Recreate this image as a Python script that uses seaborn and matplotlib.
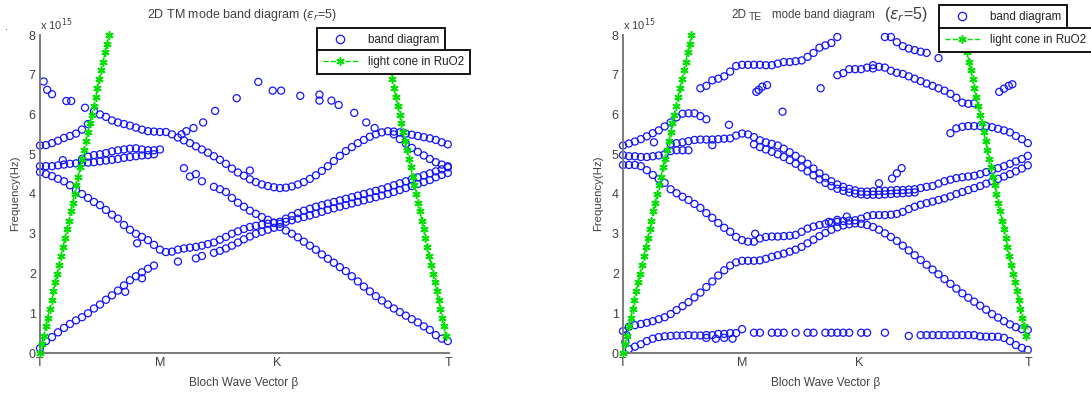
import numpy as np
import pandas as pd
import matplotlib
matplotlib.use("Agg")
import matplotlib.pyplot as plt
from matplotlib.lines import Line2D
import seaborn as sns

nan = float("nan")

# ---------------- data (frequencies in units of 1e15 Hz) ----------------
K_PATH = [0.00, 0.05, 0.10, 0.15, 0.20, 0.25, 0.30, 0.35, 0.40, 0.45, 0.50, 0.55, 0.60, 0.65, 0.70, 0.75, 0.80, 0.85, 0.90, 0.95, 1.00,
          1.05, 1.10, 1.15, 1.20, 1.25, 1.30, 1.35, 1.40, 1.45, 1.50, 1.55, 1.60, 1.65, 1.70, 1.75, 1.80, 1.85, 1.90, 1.95,
          2.00, 2.05, 2.10, 2.15, 2.20, 2.25, 2.30, 2.35, 2.40, 2.45, 2.50, 2.55, 2.60, 2.65, 2.70, 2.75, 2.80, 2.85, 2.90, 2.95,
          3.00, 3.05, 3.10, 3.15, 3.20, 3.25, 3.30, 3.35, 3.40]
K_TICKS = [0.0, 1.0, 1.98, 3.41]
K_TICK_LABELS = ["T", "M", "K", "T"]
Y_TICKS = [0, 1, 2, 3, 4, 5, 6, 7, 8]

# --- TM panel ---
TM_BAND_1 = ([0.12, 0.30, 0.40, 0.52, 0.63, 0.73, 0.82, 0.90, 1.00, 1.12, 1.22, 1.34, 1.45, 1.57, 1.70, 1.83, 1.93, 2.03, 2.12, 2.20, nan]
             + [nan, nan, 2.30, nan, nan, 2.38, 2.44, nan, 2.52, 2.57, 2.63, 2.70, 2.78, 2.86, 2.93, 3.00, 3.05, 3.10, 3.15]
             + [3.17, 3.08, 3.00, 2.91, 2.80, 2.70, 2.60, 2.48, 2.37, 2.27, 2.16, 2.06, 1.93, 1.80, 1.67, 1.55, 1.43, 1.32, 1.22, 1.12,
                1.03, 0.94, 0.85, 0.77, 0.67, 0.58, 0.45, 0.36, 0.30])
TM_BAND_2 = ([4.55, 4.50, 4.45, 4.38, 4.32, 4.22, 4.10, 4.00, 3.90, 3.80, 3.72, 3.60, 3.48, 3.38, 3.22, 3.10, 3.00, 2.92, 2.84, 2.72, 2.60]
             + [2.54, 2.55, 2.60, 2.63, 2.65, 2.67, 2.70, 2.74, 2.78, 2.85, 2.92, 3.00, 3.06, 3.12, 3.17, 3.20, 3.23, 3.25, 3.27]
             + [3.30, 3.38, 3.45, 3.52, 3.58, 3.63, 3.68, 3.72, 3.76, 3.80, 3.84, 3.88, 3.92, 3.96, 4.00, 4.04, 4.08, 4.12, 4.17, 4.22,
                4.27, 4.32, 4.37, 4.42, 4.47, 4.52, 4.57, 4.62, 4.67])
TM_BAND_3 = ([nan] * 21
             + [nan, nan, nan, 4.65, 4.44, 4.50, 4.32, nan, 4.18, 4.12, 4.05, 3.90, 3.78, 3.68, 3.58, 3.50, 3.42, 3.35, 3.28]
             + [3.25, 3.30, 3.34, 3.38, 3.42, 3.46, 3.50, 3.55, 3.60, 3.64, 3.68, 3.72, 3.76, 3.80, 3.84, 3.88, 3.92, 3.96, 4.00, 4.05,
                4.10, 4.15, 4.20, 4.25, 4.30, 4.35, 4.42, 4.48, 4.53])
TM_BAND_4A = ([4.70, 4.70, 4.70, 4.72, 4.74, 4.76, 4.77, 4.78, 4.79, 4.80, 4.82, 4.84, 4.86, 4.88, 4.91, 4.93, 4.95, 4.97, 4.98, 5.00, nan]
              + [nan] * 48)
TM_BAND_4B = ([nan] * 7 + [4.88, 4.94, 4.98, 5.00, 5.03, 5.07, 5.10, 5.12, 5.14, 5.15, 5.12, 5.10, 5.10, 5.12]
              + [nan] * 48)
TM_BAND_5 = ([5.22, 5.23, 5.28, 5.34, 5.41, 5.46, 5.52, 5.62, 5.76, 6.08, 6.00, 5.94, 5.85, 5.80, 5.76, 5.72, 5.67, 5.62, 5.58, 5.57, 5.56]
             + [5.56, 5.50, 5.42, 5.35, 5.28, 5.20, 5.12, 5.04, 4.95, 4.86, 4.76, 4.64, 4.54, 4.46, 4.37, 4.30, 4.24, 4.20, 4.17]
             + [4.15, 4.16, 4.19, 4.24, 4.30, 4.38, 4.47, 4.58, 4.70, 4.83, 4.96, 5.08, 5.18, 5.28, 5.36, 5.44, 5.50, 5.55, 5.58, 5.57,
                5.55, 5.52, 5.49, 5.46, 5.43, 5.40, 5.36, 5.30, 5.25])
TM_BAND_5B = [nan] * 59 + [5.50, 5.38, 5.27, 5.16, 5.06, 4.97, 4.88, 4.80, 4.74, 4.70]
TM_EXTRA_K = [0.03, 0.06, 0.10, 0.22, 0.26, 0.375,
              1.18, 1.22, 1.28, 1.36, 1.46, 1.64, 1.82, 1.94, 2.01, 2.17, 2.33, 2.33, 2.43, 2.49, 2.62, 2.72, 2.79,
              0.19, 1.75, 0.71, 0.85, 0.81]
TM_EXTRA_F = [6.83, 6.62, 6.51, 6.34, 6.34, 6.17,
              5.50, 5.58, 5.66, 5.80, 6.09, 6.41, 6.82, 6.60, 6.60, 6.47, 6.50, 6.35, 6.35, 6.24, 6.04, 5.80, 5.66,
              4.85, 4.59, 1.54, 1.88, 2.76]

# --- TE panel ---
TE_BAND_A = ([nan, 0.10, 0.16, 0.22, 0.30, 0.36, 0.40, 0.42, 0.43, 0.44, 0.44, 0.45, 0.44, 0.44, 0.45, 0.45, 0.48, 0.48, 0.50, 0.50, 0.60]
             + [nan, 0.51, 0.51, nan, 0.51, 0.51, 0.51, nan, 0.51, nan, 0.51, 0.51, nan, 0.51, 0.51, 0.51, 0.51, 0.51, nan]
             + [0.51, 0.51, nan, nan, 0.51, nan, nan, nan, 0.43, nan, 0.45, 0.45, 0.45, 0.45, 0.45, 0.45, 0.45, 0.45, 0.45, 0.45,
                0.42, 0.41, 0.41, 0.41, 0.38, 0.30, 0.20, 0.13, 0.08])
TE_BAND_B = ([0.55, 0.66, 0.70, 0.73, 0.76, 0.80, 0.85, 0.90, 0.98, 1.08, 1.18, 1.28, 1.40, 1.52, 1.66, 1.80, 1.95, 2.08, 2.20, 2.28, 2.32]
             + [2.32, 2.32, 2.33, 2.37, 2.42, 2.46, 2.50, 2.55, 2.60, 2.67, 2.76, 2.85, 2.94, 3.02, 3.10, 3.16, 3.21, 3.24, 3.26]
             + [3.25, 3.22, 3.17, 3.10, 3.01, 2.92, 2.82, 2.70, 2.58, 2.46, 2.34, 2.22, 2.10, 1.98, 1.86, 1.74, 1.62, 1.50, 1.39, 1.29,
                1.19, 1.09, 0.98, 0.89, 0.80, 0.72, 0.65, 0.60, 0.58])
TE_BAND_C = ([4.73, 4.73, 4.73, 4.70, 4.60, 4.48, 4.38, 4.28, 4.12, 4.02, 3.93, 3.85, 3.75, 3.65, 3.52, 3.40, 3.27, 3.15, 3.05, 2.92, 2.84]
             + [2.80, 2.80, 2.88, 2.92, 2.93, 2.93, 2.94, 2.95, 2.97, 3.05, 3.13, 3.18, 3.22, 3.25, 3.28, 3.30, 3.32, 3.33, 3.34]
             + [3.38, 3.44, 3.47, 3.47, 3.47, 3.48, 3.50, 3.55, 3.62, 3.68, 3.73, 3.77, 3.81, 3.85, 3.89, 3.94, 4.00, 4.05, 4.10, 4.15,
                4.20, 4.26, 4.32, 4.38, 4.44, 4.50, 4.57, 4.64, 4.72])
TE_BAND_D = [4.98, 4.95, 4.95, 4.93, 4.93, 4.95, 4.97, 5.00, 5.08, 5.10, 5.10, 5.10] + [nan] * 57
TE_BAND_E = ([nan] * 8 + [5.26, 5.28, 5.30, 5.33, 5.36, 5.37, 5.37, 5.37, 5.38, 5.39, 5.40, 5.47, 5.52]
             + [5.50, 5.43, 5.35, 5.30, 5.26, 5.22, 5.14, 5.05, 4.96, 4.87, 4.76, 4.64, 4.52, 4.41, 4.32, 4.24, 4.18, 4.13, 4.09]
             + [4.06, 4.06, 4.07, 4.08, 4.08, 4.09, 4.10, 4.10, 4.11, 4.12, 4.15, 4.18, 4.20, 4.26, 4.32, 4.36, 4.40, 4.42, 4.44, 4.46,
                4.50, 4.55, 4.60, 4.65, 4.70, 4.76, 4.82, 4.88, 4.96])
TE_BAND_E2 = ([nan] * 21
              + [nan, 5.25, 5.18, 5.12, 5.06, 5.00, 4.93, 4.85, 4.76, 4.67, 4.57, 4.47, 4.37, 4.28, 4.20, 4.13, 4.08, 4.04, 4.01]
              + [3.99, 3.98, 3.98, 3.98, 3.99, 4.00, 4.01, 4.02, 4.03, 4.04] + [nan] * 19)
TE_BAND_F = [5.22, 5.27, 5.32, 5.38, 5.45, 5.53, 5.60, 5.70, 5.80, 5.93, 6.02, 6.03, 6.03, 5.96, 5.88] + [nan] * 54
TE_BAND_G = ([nan] * 13 + [6.66, 6.72, 6.86, 6.90, 6.96, 7.08, 7.22, 7.25]
             + [7.25, 7.25, 7.25, 7.24, 7.24, 7.28, 7.32, 7.32, 7.34, 7.36, 7.45, 7.55, 7.68, 7.74, 7.80, 7.95, nan, nan, nan]
             + [nan, nan, nan, nan, 7.95, 7.95, 7.82, 7.72, 7.66, 7.62, 7.58, 7.55, nan, 7.42] + [nan] * 15)
TE_BAND_H = ([nan] * 21 + [nan] * 15 + [6.99, 7.04, 7.14, 7.14]
             + [7.14, 7.18, 7.24, 7.20, 7.18, 7.10, 7.05, 7.02, 6.96, 6.90, 6.84, 6.78, 6.72, 6.66, 6.60, 6.52, 6.42, 6.30, 6.27, 6.28]
             + [nan] * 9)
TE_BAND_I = [nan] * 55 + [5.53, 5.65, 5.69, 5.71, 5.71, 5.71, 5.71, 5.68, 5.64, 5.60, 5.55, 5.46, 5.38, 5.28]
TE_EXTRA_K = [1.14, 1.17, 1.21, 1.12, 3.16, 3.20, 3.24, 3.27,
              1.34, 1.66, 0.89, 0.75, 0.26,
              1.11, 1.73, 1.80, 1.88,
              2.15, 2.26, 2.30, 2.34,
              0.02, 0.03, 0.70, 0.78, 0.85, 0.92, 2.10]
TE_EXTRA_F = [6.62, 6.70, 6.74, 6.57, 6.57, 6.65, 6.72, 6.76,
              6.07, 6.66, 5.74, 5.23, 5.30,
              3.00, 3.30, 3.35, 3.43,
              4.27, 4.39, 4.52, 4.65,
              0.28, 0.45, 0.38, 0.36, 0.38, 0.36, 7.16]

# --- light cone in RuO2 (both panels) ---
CONE_L_K = [0.000, 0.016, 0.032, 0.048, 0.064, 0.080, 0.096, 0.112, 0.128, 0.144, 0.160, 0.175, 0.192, 0.208, 0.224, 0.239,
            0.256, 0.272, 0.288, 0.303, 0.319, 0.336, 0.351, 0.367, 0.383, 0.400, 0.415, 0.431, 0.447, 0.463, 0.479, 0.495,
            0.511, 0.527, 0.543, 0.559, 0.575]
CONE_L_F = [0.00, 0.22, 0.44, 0.67, 0.89, 1.11, 1.33, 1.56, 1.78, 2.00, 2.22, 2.44, 2.67, 2.89, 3.11, 3.33, 3.56, 3.78, 4.00,
            4.22, 4.44, 4.67, 4.89, 5.11, 5.33, 5.56, 5.78, 6.00, 6.22, 6.44, 6.67, 6.89, 7.11, 7.33, 7.56, 7.78, 8.00]
CONE_R_K = [3.384, 3.368, 3.353, 3.338, 3.323, 3.307, 3.291, 3.276, 3.261, 3.245, 3.229, 3.214, 3.199, 3.184, 3.168, 3.152,
            3.137, 3.122, 3.106, 3.090, 3.075, 3.060, 3.045, 3.029, 3.013, 2.998, 2.983, 2.967, 2.951, 2.936, 2.921, 2.906,
            2.890, 2.874, 2.859]
CONE_R_F = [0.44, 0.67, 0.89, 1.11, 1.33, 1.56, 1.78, 2.00, 2.22, 2.44, 2.67, 2.89, 3.11, 3.33, 3.56, 3.78, 4.00, 4.22,
            4.44, 4.67, 4.89, 5.11, 5.33, 5.56, 5.78, 6.00, 6.22, 6.44, 6.67, 6.89, 7.11, 7.33, 7.56, 7.78, 8.00]

# ---------------- styling ----------------
sns.set_theme(style="white", rc={"axes.facecolor": "white", "figure.facecolor": "white"})
plt.rcParams["font.family"] = ["Liberation Sans", "DejaVu Sans"]
plt.rcParams["mathtext.fontset"] = "dejavusans"

TXT = "#404040"
SPINE = "#7a7a7a"
BLUE = "#1414ff"
GREEN = "#00e000"

W, H = 1091, 397
fig = plt.figure(figsize=(W / 100, H / 100), dpi=100)


def fx(px):
    return px / W


def fy(py):
    return 1 - py / H


def band_frame(bands, ek, ef):
    parts = []
    for b in bands:
        assert len(b) == len(K_PATH)
        parts.append(pd.DataFrame({"k": K_PATH, "f": b}))
    parts.append(pd.DataFrame({"k": ek, "f": ef}))
    return pd.concat(parts, ignore_index=True).dropna()


def draw_panel(ax, df):
    sns.scatterplot(data=df, x="k", y="f", ax=ax, s=26, marker="o", linewidth=0.9,
                    legend=False, clip_on=False, zorder=2)
    coll = ax.collections[-1]
    coll.set_facecolor("none")
    coll.set_edgecolor(BLUE)
    for ck, cf in ((CONE_L_K, CONE_L_F), (CONE_R_K, CONE_R_F)):
        sns.lineplot(x=ck, y=cf, ax=ax, sort=False, estimator=None, color=GREEN,
                     linestyle="--", linewidth=1.0, marker=(6, 2, 0), markersize=6,
                     markeredgewidth=1.1, markeredgecolor=GREEN, zorder=3, clip_on=False)
    ax.set_xlim(0, 3.41)
    ax.set_ylim(0, 8)
    ax.set_xticks(K_TICKS)
    ax.set_xticklabels(K_TICK_LABELS)
    ax.set_yticks(Y_TICKS)
    ax.set_xlabel("")
    ax.set_ylabel("")
    for s in ("top", "right"):
        ax.spines[s].set_visible(False)
    for s in ("left", "bottom"):
        ax.spines[s].set_color(SPINE)
        ax.spines[s].set_linewidth(1.4)
    ax.tick_params(direction="in", length=3.5, width=1.0, color=SPINE, labelsize=9,
                   labelcolor=TXT, pad=3)
    ax.set_facecolor("none")


def add_legends(ax, x0, y0, y1):
    h1 = Line2D([], [], linestyle="none", marker="o", markerfacecolor="none",
                markeredgecolor=BLUE, markersize=6, markeredgewidth=0.9)
    h2 = Line2D([], [], linestyle="--", color=GREEN, linewidth=1.0, marker=(6, 2, 0),
                markersize=6, markeredgewidth=1.1)
    kw = dict(loc="upper left", bbox_transform=fig.transFigure, frameon=True, fancybox=False,
              framealpha=1, edgecolor="black", fontsize=8.4, borderpad=0.5,
              handlelength=3.0, handletextpad=0.9, borderaxespad=0)
    l1 = ax.legend(handles=[h1], labels=["band diagram"], bbox_to_anchor=(fx(x0), fy(y0)), **kw)
    l1.get_frame().set_linewidth(1.3)
    for t in l1.get_texts():
        t.set_color("#222222")
    ax.add_artist(l1)
    l2 = ax.legend(handles=[h2], labels=["light cone in RuO2"], bbox_to_anchor=(fx(x0), fy(y1)), **kw)
    l2.get_frame().set_linewidth(1.3)
    for t in l2.get_texts():
        t.set_color("#222222")
    l1.set_zorder(10)
    l2.set_zorder(10)


# left axes (TM)
ax1 = fig.add_axes([fx(40), fy(353), fx(449 - 40), (353 - 35) / H])
df_tm = band_frame([TM_BAND_1, TM_BAND_2, TM_BAND_3, TM_BAND_4A, TM_BAND_4B, TM_BAND_5, TM_BAND_5B],
                   TM_EXTRA_K, TM_EXTRA_F)
draw_panel(ax1, df_tm)
add_legends(ax1, 317, 28, 50)

# right axes (TE)
ax2 = fig.add_axes([fx(623), fy(353), fx(1029 - 623), (353 - 35) / H])
df_te = band_frame([TE_BAND_A, TE_BAND_B, TE_BAND_C, TE_BAND_D, TE_BAND_E, TE_BAND_E2,
                    TE_BAND_F, TE_BAND_G, TE_BAND_H, TE_BAND_I], TE_EXTRA_K, TE_EXTRA_F)
draw_panel(ax2, df_te)
add_legends(ax2, 939, 5, 28)

# texts
fig.text(fx(5), fy(30), ".", fontsize=8, color=TXT)
fig.text(fx(242), fy(15), r"2D TM mode band diagram ($\varepsilon_r$=5)", ha="center", va="center",
         fontsize=9, color=TXT)
fig.text(fx(731), fy(15), "2D", ha="left", va="center", fontsize=8.5, color=TXT)
fig.text(fx(749), fy(17), "TE", ha="left", va="center", fontsize=7.5, color=TXT)
fig.text(fx(772), fy(15), "mode band diagram", ha="left", va="center", fontsize=8.3, color=TXT)
fig.text(fx(884), fy(15), r"($\varepsilon_r$=5)", ha="left", va="center", fontsize=11.5, color=TXT)

for xo in (40, 623):
    fig.text(fx(xo), fy(25), r"x 10$^{15}$", ha="left", va="center", fontsize=8, color=TXT)

for xl, xc in ((15, 244), (598, 826)):
    fig.text(fx(xl), fy(193), "Frequency(Hz)", rotation=90, ha="center", va="center",
             fontsize=8.2, color=TXT)
    fig.text(fx(xc), fy(383), "Bloch Wave Vector β", ha="center", va="center",
             fontsize=8.5, color=TXT)

fig.savefig("out.png", dpi=100)
